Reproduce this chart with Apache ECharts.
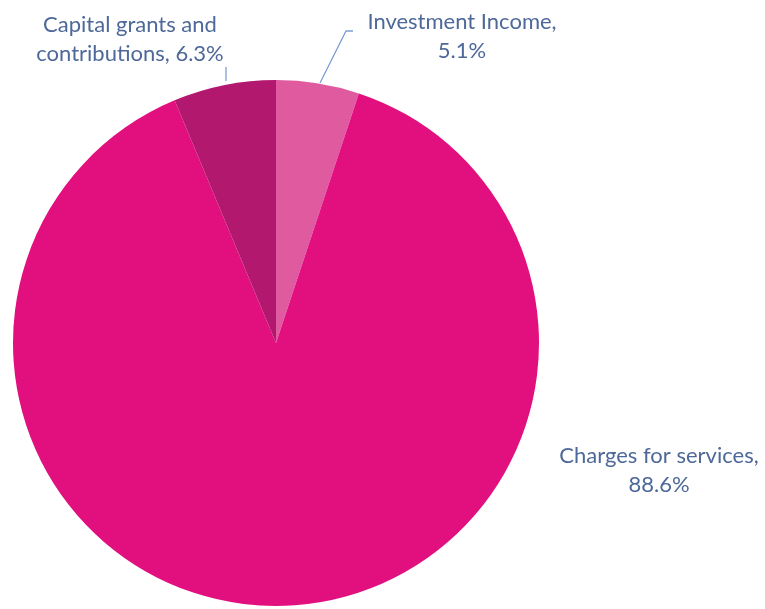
<!DOCTYPE html>
<html><head><meta charset="utf-8">
<script src="https://cdn.jsdelivr.net/npm/echarts@6/dist/echarts.min.js"></script>
<style>html,body{margin:0;padding:0;background:#fff}#c{width:765px;height:609px}</style>
</head><body><div id="c"></div>
<script>
const categories = ['Investment Income', 'Charges for services', 'Capital grants and contributions'];
const values = [5.1, 88.6, 6.3];
const labelTexts = ['Investment Income,\n5.1%', 'Charges for services,\n88.6%', 'Capital grants and\ncontributions, 6.3%'];
const colors = ['#e05aa0', '#e2107f', '#b3186f'];

const chart = echarts.init(document.getElementById('c'));
const labelPos = [
  {x: 462, y: 36, line: [[320, 83], [346, 31], [353, 31]]},
  {x: 659, y: 470, line: null},
  {x: 130, y: 39, line: [[226, 81], [226, 67]]}
];
chart.setOption({
  animation: false,
  series: [{
    type: 'pie',
    center: [276, 343],
    radius: 263,
    startAngle: 90,
    clockwise: true,
    data: categories.map((c, i) => ({
      name: c, value: values[i],
      itemStyle: {color: colors[i]},
      label: {formatter: labelTexts[i]},
      labelLine: {show: !!labelPos[i].line}
    })),
    label: {
      show: true,
      color: '#4d6899',
      fontFamily: 'Lato',
      fontSize: 22,
      lineHeight: 29,
      align: 'center',
      overflow: 'none'
    },
    labelLine: {show: true, lineStyle: {color: '#7f9fcf', width: 1.3}, smooth: false},
    labelLayout: function (p) {
      const L = labelPos[p.dataIndex];
      const out = {x: L.x, y: L.y, align: 'center', verticalAlign: 'middle'};
      if (L.line) out.labelLinePoints = L.line;
      return out;
    }
  }]
});
</script></body></html>
